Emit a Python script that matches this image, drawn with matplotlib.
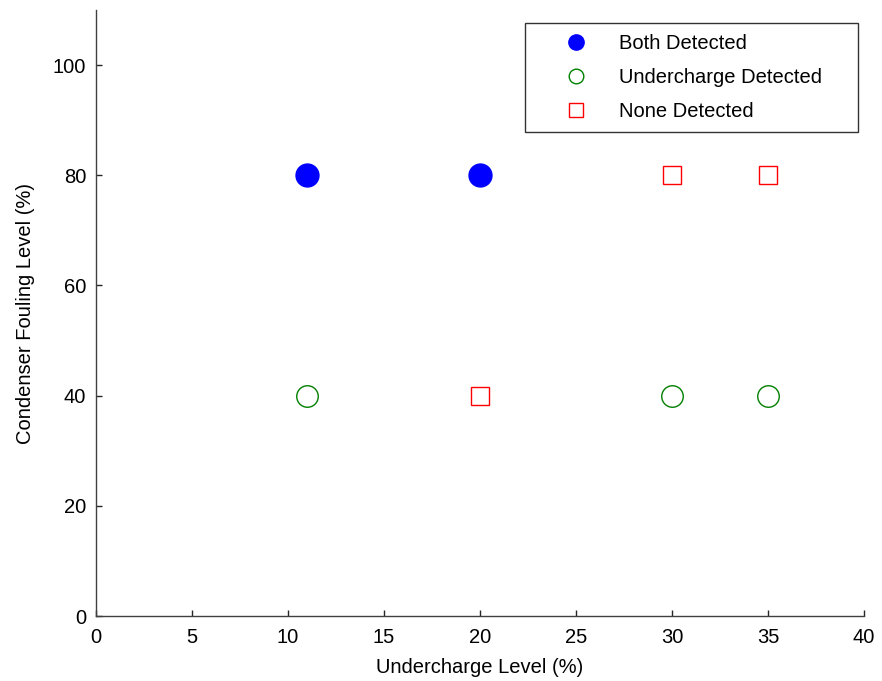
import matplotlib
matplotlib.use("Agg")
import matplotlib.pyplot as plt
from matplotlib.lines import Line2D

plt.rcParams['font.family'] = ['Liberation Sans', 'DejaVu Sans']

both_x = [11, 20]
both_y = [80, 80]
under_x = [11, 30, 35]
under_y = [40, 40, 40]
none_x = [20, 30, 35]
none_y = [40, 80, 80]
xticks = [0, 5, 10, 15, 20, 25, 30, 35, 40]
yticks = [0, 20, 40, 60, 80, 100]
labels = ['Both Detected', 'Undercharge Detected', 'None Detected']

FS = 14.5
fig = plt.figure(figsize=(8.82, 6.81), dpi=100)
ax = fig.add_axes([96/882, 65/681, (864-96)/882, (616-10)/681])

ax.plot(both_x, both_y, 'o', color='#0000ff', markersize=16.5, linestyle='none')
ax.plot(under_x, under_y, 'o', markerfacecolor='none', markeredgecolor='#008000', markersize=15.5,
        markeredgewidth=1.0, linestyle='none')
ax.plot(none_x, none_y, 's', markerfacecolor='none', markeredgecolor='#ff0000', markersize=13,
        markeredgewidth=1.0, linestyle='none')

ax.set_xlim(0, 40)
ax.set_ylim(0, 110)
ax.set_xticks(xticks)
ax.set_yticks(yticks)
ax.tick_params(direction='in', length=4, width=1, labelsize=FS, colors='#262626')
ax.tick_params(axis='both', labelcolor='black')
ax.tick_params(axis='x', pad=8.5)
ax.tick_params(axis='y', pad=7)
for s in ['top', 'right']:
    ax.spines[s].set_visible(False)
for s in ['left', 'bottom']:
    ax.spines[s].set_color('#404040')
    ax.spines[s].set_linewidth(1.0)

ax.set_xlabel('Undercharge Level (%)', fontsize=FS, labelpad=8)
ax.set_ylabel('Condenser Fouling Level (%)', fontsize=FS, labelpad=13)

handles = [
    Line2D([], [], marker='o', color='#0000ff', markersize=11, linestyle='none'),
    Line2D([], [], marker='o', markerfacecolor='none', markeredgecolor='#008000', markersize=10.5,
           markeredgewidth=1.0, linestyle='none'),
    Line2D([], [], marker='s', markerfacecolor='none', markeredgecolor='#ff0000', markersize=10,
           markeredgewidth=1.0, linestyle='none'),
]
leg = ax.legend(handles, labels, loc='upper left',
                bbox_to_anchor=(525/882, 1 - 131/681, 333/882, 108/681), bbox_transform=fig.transFigure,
                mode='expand', fontsize=FS, frameon=True, fancybox=False, edgecolor='black',
                handletextpad=0.1, borderpad=0.55, labelspacing=0.75, borderaxespad=0, handlelength=4.0)
leg.get_frame().set_linewidth(1.0)

fig.savefig('out.png', dpi=100, facecolor='white')
